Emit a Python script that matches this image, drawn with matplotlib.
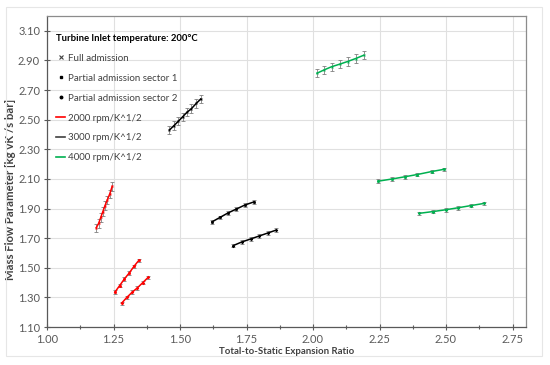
import matplotlib
matplotlib.use("Agg")
import matplotlib.pyplot as plt
from matplotlib.lines import Line2D
from matplotlib.patches import Rectangle
import numpy as np

plt.rcParams['font.family'] = ['Lato', 'DejaVu Sans']

# ---- data ----
# 2000 rpm/K^1/2 (red)
r_full_x = [1.185, 1.194, 1.202, 1.210, 1.218, 1.227, 1.236, 1.245]
r_full_y = [1.77, 1.80, 1.84, 1.88, 1.92, 1.96, 2.00, 2.05]
r_s1_x = [1.255, 1.273, 1.291, 1.309, 1.327, 1.345]
r_s1_y = [1.335, 1.380, 1.425, 1.465, 1.510, 1.550]
r_s2_x = [1.280, 1.300, 1.320, 1.340, 1.360, 1.380]
r_s2_y = [1.260, 1.300, 1.335, 1.365, 1.400, 1.435]
# 3000 rpm/K^1/2 (black)
k_full_x = [1.460, 1.477, 1.494, 1.510, 1.526, 1.543, 1.561, 1.578]
k_full_y = [2.43, 2.46, 2.49, 2.52, 2.55, 2.575, 2.61, 2.64]
k_s1_x = [1.620, 1.650, 1.680, 1.712, 1.745, 1.778]
k_s1_y = [1.810, 1.840, 1.870, 1.897, 1.925, 1.945]
k_s2_x = [1.700, 1.733, 1.766, 1.798, 1.830, 1.862]
k_s2_y = [1.650, 1.675, 1.695, 1.715, 1.735, 1.755]
# 4000 rpm/K^1/2 (green)
g_full_x = [2.015, 2.040, 2.070, 2.100, 2.130, 2.160, 2.190]
g_full_y = [2.814, 2.835, 2.858, 2.875, 2.893, 2.913, 2.935]
g_s1_x = [2.245, 2.298, 2.346, 2.392, 2.446, 2.492]
g_s1_y = [2.085, 2.100, 2.115, 2.130, 2.150, 2.165]
g_s2_x = [2.400, 2.452, 2.499, 2.544, 2.593, 2.644]
g_s2_y = [1.868, 1.880, 1.892, 1.905, 1.920, 1.935]

full_err = 0.028
part_err = 0.012

x_ticks = [1.00, 1.25, 1.50, 1.75, 2.00, 2.25, 2.50, 2.75]
y_ticks = [1.10, 1.30, 1.50, 1.70, 1.90, 2.10, 2.30, 2.50, 2.70, 2.90, 3.10]

RED = '#ff0000'
BLACK = '#000000'
GREEN = '#00b050'
ERRC = '#808080'

fig = plt.figure(figsize=(5.5, 3.65), dpi=100)
fig.patches.append(Rectangle((0.01, 0.025), 0.975, 0.955, transform=fig.transFigure,
                             fill=False, edgecolor='#e6e6e6', linewidth=0.8))
ax = fig.add_axes([0.0855, 0.104, 0.8705, 0.852])

series = [
    (r_full_x, r_full_y, RED, full_err, 'x'),
    (r_s1_x, r_s1_y, RED, part_err, 's'),
    (r_s2_x, r_s2_y, RED, part_err, 'D'),
    (k_full_x, k_full_y, BLACK, full_err, 'x'),
    (k_s1_x, k_s1_y, BLACK, part_err, 's'),
    (k_s2_x, k_s2_y, BLACK, part_err, 'D'),
    (g_full_x, g_full_y, GREEN, full_err, 'x'),
    (g_s1_x, g_s1_y, GREEN, part_err, 's'),
    (g_s2_x, g_s2_y, GREEN, part_err, 'D'),
]
for xs, ys, c, err, m in series:
    ax.errorbar(xs, ys, yerr=err, fmt='none', ecolor=ERRC, elinewidth=0.6,
                capsize=1.3, capthick=0.6, zorder=3)
    ax.plot(xs, ys, color=c, linewidth=1.1, zorder=4)
    ax.plot(xs, ys, linestyle='none', marker=m, markersize=1.3, color=c,
            markeredgewidth=0.6, zorder=5)

ax.set_xlim(1.00, 2.80)
ax.set_ylim(1.10, 3.20)
ax.set_xticks(x_ticks)
ax.set_xticklabels([f'{v:.2f}' for v in x_ticks])
ax.set_yticks(y_ticks)
ax.set_yticklabels([f'{v:.2f}' for v in y_ticks])
ax.set_xticks(np.arange(1.125, 2.8, 0.25), minor=True)
ax.grid(True, which='major', color='#e0e0e0', linewidth=0.8, zorder=0)
ax.set_axisbelow(True)
ax.tick_params(axis='both', which='major', labelsize=8, colors='#595959',
               length=4, direction='inout', width=0.8, pad=3)
ax.tick_params(axis='x', which='minor', length=2.5, direction='inout',
               color='#595959', width=0.8)
for s in ax.spines.values():
    s.set_color('#8c8c8c')
    s.set_linewidth(0.9)
ax.spines['left'].set_color('#595959')
ax.spines['bottom'].set_color('#595959')

ax.set_xlabel('Total-to-Static Expansion Ratio', fontsize=6.9, fontweight='bold',
              color='#404040', labelpad=1.5)
ax.set_ylabel('Mass Flow Parameter [kg vK /s bar]', fontsize=8.2, fontweight='bold',
              color='#404040')
ax.yaxis.set_label_coords(-0.064, 0.444)

handles = [
    Line2D([], [], linestyle='none', marker='x', markersize=2.5, color='#404040', markeredgewidth=0.8),
    Line2D([], [], linestyle='none', marker='s', markersize=1.8, color='#000000'),
    Line2D([], [], linestyle='none', marker='o', markersize=1.8, color='#000000'),
    Line2D([], [], color=RED, linewidth=1.2),
    Line2D([], [], color='#404040', linewidth=1.2),
    Line2D([], [], color=GREEN, linewidth=1.2),
]
labels = ['Full admission', 'Partial admission sector 1', 'Partial admission sector 2',
          '2000 rpm/K^1/2', '3000 rpm/K^1/2', '4000 rpm/K^1/2']
leg = ax.legend(handles, labels, loc='upper left', bbox_to_anchor=(0.005, 0.965),
                title='Turbine Inlet temperature: 200°C', fontsize=7, frameon=False,
                handlelength=0.9, handletextpad=0.3, labelspacing=1.12,
                borderaxespad=0.3)
leg.get_title().set_fontweight('bold')
leg.get_title().set_fontsize(6.8)
leg._legend_box.align = 'left'
leg._legend_box.sep = 8
for t in leg.get_texts():
    t.set_color('#404040')

fig.savefig('out.png', dpi=100)
